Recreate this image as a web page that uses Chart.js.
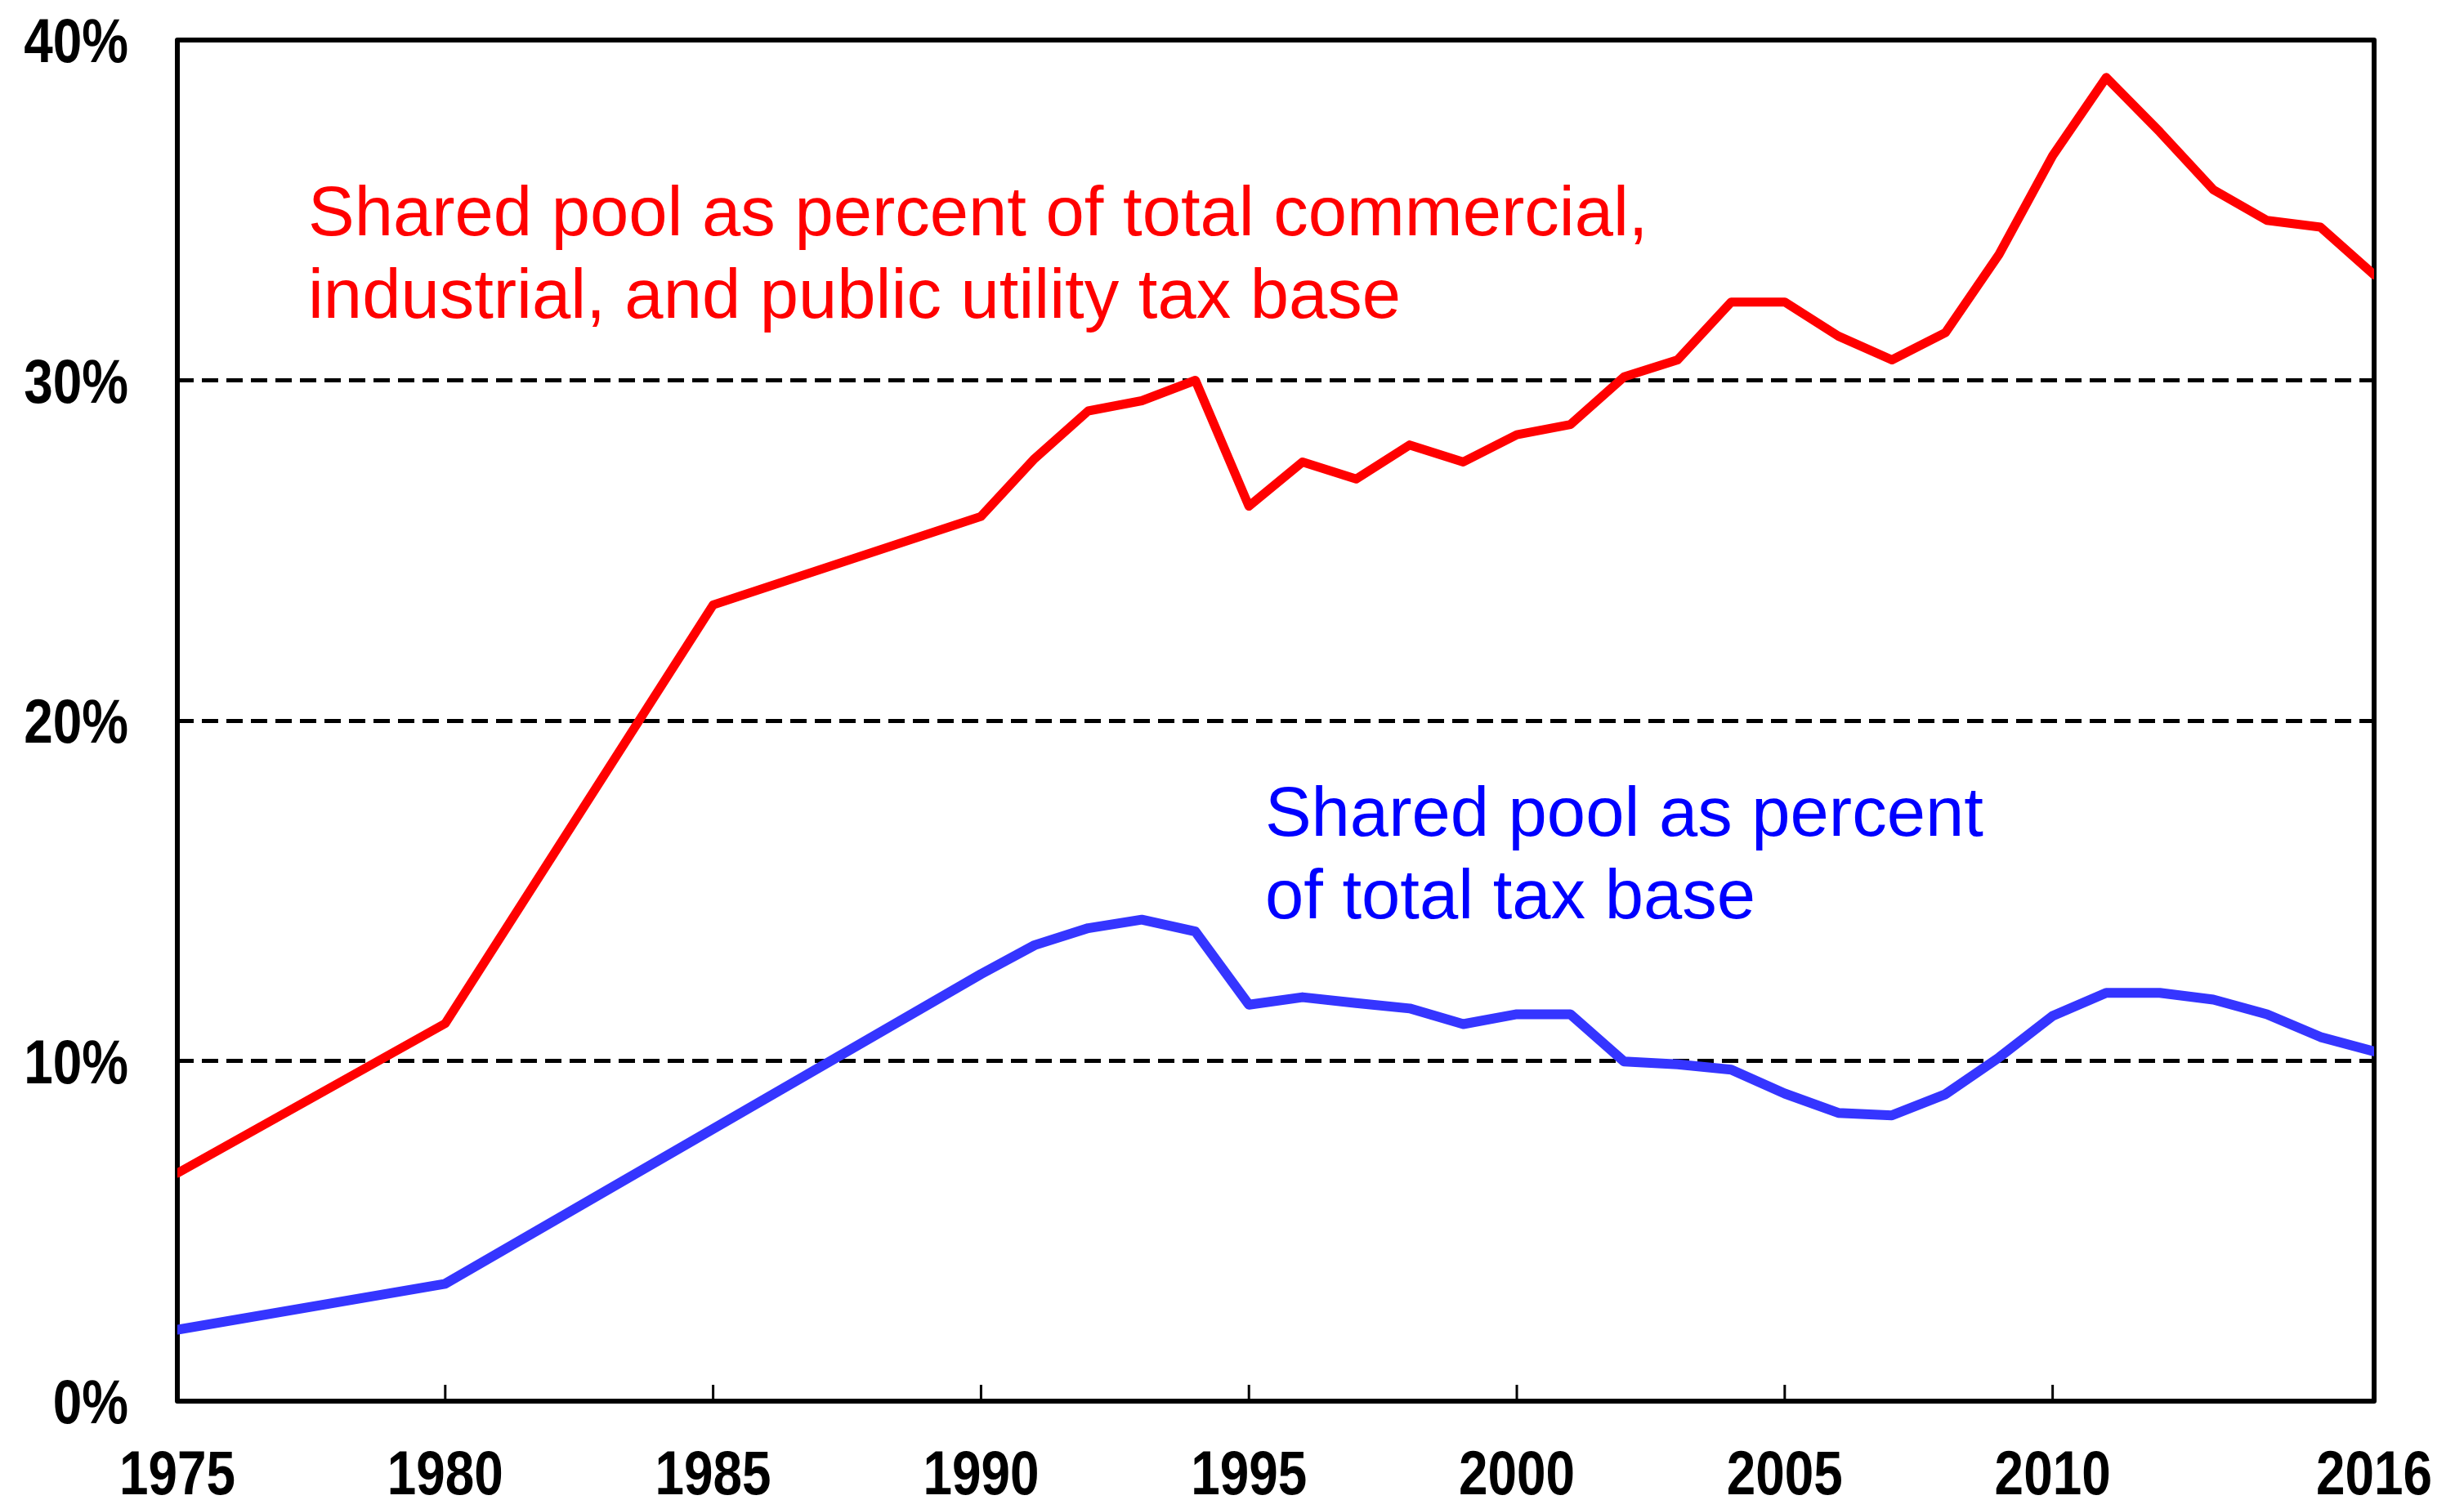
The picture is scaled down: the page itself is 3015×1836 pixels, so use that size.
<!DOCTYPE html>
<html>
<head>
<meta charset="utf-8">
<script src="https://cdn.jsdelivr.net/npm/chart.js@4.4.0/dist/chart.umd.min.js"></script>
<style>
  html, body { margin: 0; padding: 0; background: #fff; }
  #wrap { width: 3015px; height: 1836px; }
</style>
</head>
<body>
<div id="wrap"><canvas id="chart" width="3015" height="1836"></canvas></div>
<script>
"use strict";

// Years with data (1975-1990 only every 5 years, then yearly)
const years = [1975, 1980, 1985, 1990, 1991, 1992, 1993, 1994, 1995, 1996, 1997, 1998, 1999,
    2000, 2001, 2002, 2003, 2004, 2005, 2006, 2007, 2008, 2009, 2010, 2011, 2012, 2013, 2014, 2015, 2016];

// Shared pool as % of commercial, industrial and public utility tax base
const commercialShare = [6.7, 11.1, 23.4, 26.0, 27.7, 29.1, 29.4, 30.0, 26.3, 27.6, 27.1, 28.1, 27.6,
    28.4, 28.7, 30.1, 30.6, 32.3, 32.3, 31.3, 30.6, 31.4, 33.7, 36.6, 38.9, 37.3, 35.6, 34.7, 34.5, 33.1];

// Shared pool as % of total tax base
const totalShare = [2.1, 3.45, 8.0, 12.55, 13.4, 13.9, 14.15, 13.8, 11.65, 11.87, 11.7, 11.54, 11.08,
    11.37, 11.37, 9.98, 9.9, 9.74, 9.04, 8.47, 8.4, 9.02, 10.1, 11.32, 12.0, 12.0, 11.8, 11.37, 10.7, 10.28];

const xTickYears = [1975, 1980, 1985, 1990, 1995, 2000, 2005, 2010, 2016];
const yTickValues = [0, 10, 20, 30, 40];

const noteLines = {
    commercial: ["Shared pool as percent of total commercial,", "industrial, and public utility tax base"],
    total: ["Shared pool as percent", "of total tax base"]
};

// caixa do gráfico + marcas internas do eixo x
const framePlugin = {
    id: "frame",
    beforeDatasetsDraw(chart) {
        const { ctx, chartArea: a, scales } = chart;
        ctx.save();
        ctx.strokeStyle = "#000";
        ctx.lineWidth = 3;
        scales.x.ticks.forEach(t => {
            const px = scales.x.getPixelForValue(t.value);
            ctx.beginPath();
            ctx.moveTo(px, a.bottom);
            ctx.lineTo(px, a.bottom - 20);
            ctx.stroke();
        });
        ctx.lineWidth = 6;
        ctx.lineJoin = "round";
        ctx.strokeRect(a.left, a.top, a.right - a.left, a.bottom - a.top);
        ctx.restore();
    }
};

// rótulos dos eixos em negrito estreito (fonte comprimida na horizontal)
const squeeze = 0.84;
const tickLabelsPlugin = {
    id: "tickLabels",
    afterDraw(chart) {
        const { ctx, chartArea: a, scales } = chart;
        ctx.save();
        ctx.font = "bold 76px 'Liberation Sans', Arial, sans-serif";
        ctx.fillStyle = "#000";
        ctx.textBaseline = "alphabetic";
        scales.x.ticks.forEach(t => {
            const px = scales.x.getPixelForValue(t.value);
            ctx.save();
            ctx.translate(px, a.bottom + 114);
            ctx.scale(squeeze, 1);
            ctx.textAlign = "center";
            ctx.fillText(String(t.value), 0, 0);
            ctx.restore();
        });
        scales.y.ticks.forEach(t => {
            const py = scales.y.getPixelForValue(t.value);
            ctx.save();
            ctx.translate(a.left - 60, py + 27);
            ctx.scale(squeeze, 1);
            ctx.textAlign = "right";
            ctx.fillText(t.value + "%", 0, 0);
            ctx.restore();
        });
        ctx.restore();
    }
};

// textos explicativos, posicionados pelas escalas
const notes = [
    { lines: noteLines.commercial, color: "#ff0000", year: 1977.44, value: 34.25 },
    { lines: noteLines.total, color: "#0000ff", year: 1995.3, value: 16.62 }
];

const notesPlugin = {
    id: "notes",
    afterDraw(chart) {
        const { ctx, scales } = chart;
        ctx.save();
        ctx.font = "85px 'Liberation Sans', Arial, sans-serif";
        ctx.textAlign = "left";
        ctx.textBaseline = "alphabetic";
        notes.forEach(n => {
            const x = scales.x.getPixelForValue(n.year);
            const y = scales.y.getPixelForValue(n.value);
            ctx.fillStyle = n.color;
            n.lines.forEach((line, i) => ctx.fillText(line, x, y + i * 101));
        });
        ctx.restore();
    }
};

const ctx = document.getElementById("chart").getContext("2d");
new Chart(ctx, {
    type: "line",
    data: {
        datasets: [
            {
                label: "Commercial, industrial and public utility",
                data: years.map((yr, i) => ({ x: yr, y: commercialShare[i] })),
                borderColor: "#ff0000",
                borderWidth: 11,
                pointRadius: 0,
                tension: 0,
                borderJoinStyle: "round",
                borderCapStyle: "round"
            },
            {
                label: "Total tax base",
                data: years.map((yr, i) => ({ x: yr, y: totalShare[i] })),
                borderColor: "#3535ff",
                borderWidth: 12,
                pointRadius: 0,
                tension: 0,
                borderJoinStyle: "round",
                borderCapStyle: "round"
            }
        ]
    },
    options: {
        responsive: false,
        animation: false,
        devicePixelRatio: 1,
        layout: { padding: { left: 0, right: 110, top: 49, bottom: 0 } },
        plugins: {
            legend: { display: false },
            tooltip: { enabled: false }
        },
        scales: {
            x: {
                type: "linear",
                min: 1975,
                max: 2016,
                afterBuildTicks: scale => { scale.ticks = xTickYears.map(v => ({ value: v })); },
                afterFit: scale => {
                    scale.height = 121;
                    scale.paddingLeft = 0;
                    scale.paddingRight = 0;
                },
                grid: { display: false, drawTicks: false },
                border: { display: false },
                ticks: { display: false, autoSkip: false }
            },
            y: {
                min: 0,
                max: 40,
                afterBuildTicks: scale => { scale.ticks = yTickValues.map(v => ({ value: v })); },
                afterFit: scale => {
                    scale.width = 217;
                    scale.paddingTop = 0;
                    scale.paddingBottom = 0;
                },
                grid: { color: "#000", lineWidth: 5, drawTicks: false },
                border: { display: false, dash: [20, 10] },
                ticks: { display: false }
            }
        }
    },
    plugins: [framePlugin, tickLabelsPlugin, notesPlugin]
});
</script>
</body>
</html>
